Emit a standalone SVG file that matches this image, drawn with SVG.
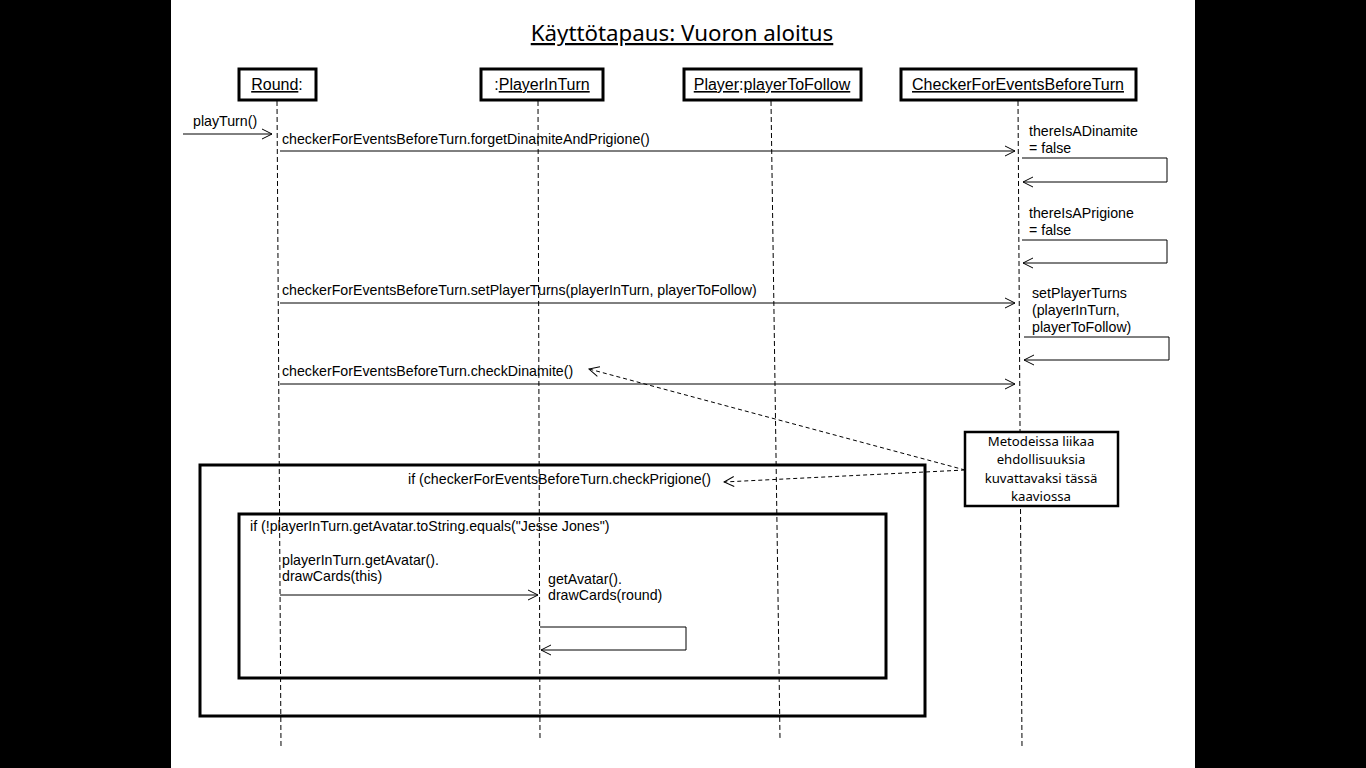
<svg xmlns="http://www.w3.org/2000/svg" width="1366" height="768" viewBox="0 0 1366 768">
<style>
.t{font-family:"Liberation Sans",Arial,sans-serif;font-size:14.2px;fill:#000}
.h{font-family:"Liberation Sans",Arial,sans-serif;font-size:16px;fill:#000}
.u{text-decoration:underline}
.c{font-family:"Noto Sans","Open Sans",sans-serif;font-size:13.2px;fill:#000;text-anchor:middle}
.hb{fill:#fff;stroke:#000;stroke-width:3}
.life{stroke:#000;stroke-width:1;stroke-dasharray:5,3;fill:none}
.msg{stroke:#000;stroke-width:1;fill:none}
.dash{stroke:#000;stroke-width:1;stroke-dasharray:4,3;fill:none}
.frame{fill:none;stroke:#000;stroke-width:3}
</style>
<defs>
<marker id="open" viewBox="0 0 12 12" refX="11" refY="6" markerWidth="12" markerHeight="12" markerUnits="userSpaceOnUse" orient="auto">
<path d="M1,1 L11,6 L1,11" fill="none" stroke="#000" stroke-width="1"/>
</marker>
</defs>
<rect x="0" y="0" width="1366" height="768" fill="#000"/>
<rect x="171" y="0" width="1024" height="768" fill="#fff"/>
<text x="682" y="41" text-anchor="middle" style="font-family:'Noto Sans','Open Sans',sans-serif;font-size:22.3px;text-decoration:underline">Käyttötapaus: Vuoron aloitus</text>

<g id="lifelines">
<line class="life" x1="277" y1="101" x2="281" y2="748"/>
<line class="life" x1="538" y1="101" x2="540" y2="738"/>
<line class="life" x1="771" y1="101" x2="780" y2="738"/>
<line class="life" x1="1018" y1="101" x2="1022" y2="748"/>
</g>

<g id="round"><rect class="hb" x="239" y="69" width="77" height="31"/><text class="h" x="277" y="90" text-anchor="middle"><tspan class="u">Round</tspan>:</text></g>
<g id="playerInTurn"><rect class="hb" x="481" y="69" width="122" height="31"/><text class="h" x="542" y="90" text-anchor="middle">:<tspan class="u">PlayerInTurn</tspan></text></g>
<g id="playerToFollow"><rect class="hb" x="684" y="69" width="177" height="31"/><text class="h" x="772" y="90" text-anchor="middle"><tspan class="u">Player</tspan>:<tspan class="u">playerToFollow</tspan></text></g>
<g id="checker"><rect class="hb" x="901" y="69" width="235" height="31"/><text class="h u" x="1018" y="90" text-anchor="middle">CheckerForEventsBeforeTurn</text></g>

<g id="outerFrame"><rect class="frame" x="200" y="465" width="725" height="251"/><text class="t" x="408" y="484">if (checkerForEventsBeforeTurn.checkPrigione()</text></g>
<g id="innerFrame"><rect class="frame" x="239" y="514" width="647" height="164"/><text class="t" x="250" y="531">if (!playerInTurn.getAvatar.toString.equals("Jesse Jones")</text></g>

<g id="note"><rect x="965" y="432" width="153" height="74" fill="#fff" stroke="#000" stroke-width="2.5"/>
<text class="c" x="1041" y="446">Metodeissa liikaa</text>
<text class="c" x="1041" y="464">ehdollisuuksia</text>
<text class="c" x="1041" y="483">kuvattavaksi tässä</text>
<text class="c" x="1041" y="501">kaaviossa</text></g>

<g id="connectors">
<line class="msg" x1="183" y1="134" x2="272" y2="134" marker-end="url(#open)"/>
<text class="t" x="193" y="126">playTurn()</text>
<line class="msg" x1="280" y1="151" x2="1015" y2="151" marker-end="url(#open)"/>
<text class="t" x="282" y="144">checkerForEventsBeforeTurn.forgetDinamiteAndPrigione()</text>
<text class="t" x="1029" y="136">thereIsADinamite</text>
<text class="t" x="1029" y="153">= false</text>
<polyline class="msg" points="1022,158 1167,158 1167,182 1023,182" marker-end="url(#open)"/>
<text class="t" x="1029" y="218">thereIsAPrigione</text>
<text class="t" x="1029" y="235">= false</text>
<polyline class="msg" points="1022,240 1167,240 1167,263 1023,263" marker-end="url(#open)"/>
<line class="msg" x1="280" y1="303" x2="1015" y2="303" marker-end="url(#open)"/>
<text class="t" x="282" y="295">checkerForEventsBeforeTurn.setPlayerTurns(playerInTurn, playerToFollow)</text>
<text class="t" x="1032" y="298">setPlayerTurns</text>
<text class="t" x="1032" y="315">(playerInTurn,</text>
<text class="t" x="1032" y="332">playerToFollow)</text>
<polyline class="msg" points="1024,337 1169,337 1169,360 1024,360" marker-end="url(#open)"/>
<line class="msg" x1="280" y1="384" x2="1015" y2="384" marker-end="url(#open)"/>
<text class="t" x="282" y="376">checkerForEventsBeforeTurn.checkDinamite()</text>
<line class="dash" x1="965" y1="470" x2="589" y2="369" marker-end="url(#open)"/>
<line class="dash" x1="965" y1="470" x2="724" y2="482" marker-end="url(#open)"/>
<text class="t" x="282" y="565">playerInTurn.getAvatar().</text>
<text class="t" x="282" y="581">drawCards(this)</text>
<line class="msg" x1="280" y1="595" x2="538" y2="595" marker-end="url(#open)"/>
<text class="t" x="548" y="584">getAvatar().</text>
<text class="t" x="548" y="600">drawCards(round)</text>
<polyline class="msg" points="540,627 686,627 686,650 541,650" marker-end="url(#open)"/>
</g>
</svg>
